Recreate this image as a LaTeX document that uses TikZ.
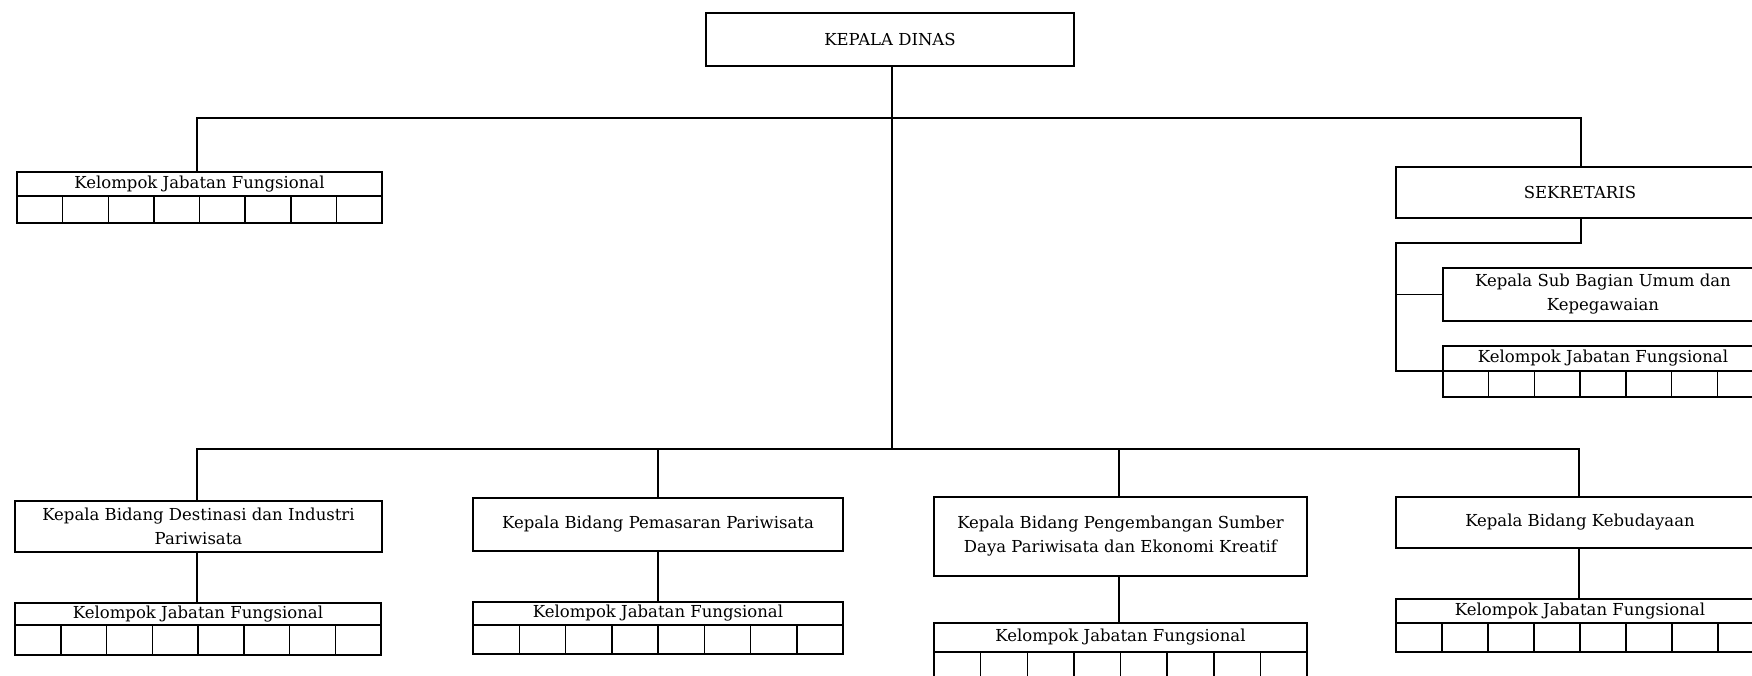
\documentclass[tikz,border=0pt]{standalone}
\usepackage{fontspec}
\setmainfont{DejaVu Serif}
\usetikzlibrary{calc}

\tikzset{
  unitbox/.style={draw, rectangle, inner sep=0pt, outer sep=0pt, line width=1.5pt,
    align=center, font=\fontsize{16.5}{24}\selectfont},
  kjftitle/.style={unitbox},
  kjfrow/.style={unitbox},
  link/.style={line width=1.4pt},
}

% Kelompok Jabatan Fungsional table:
% #1 name, #2 left x, #3 right x, #4 top y, #5 divider y, #6 bottom y, #7 number of cells
\newcommand{\kjfbox}[7]{%
  \node[kjftitle, minimum width={#3-#2}, minimum height={#5-#4}]
    (#1) at ({(#2+#3)/2},{(#4+#5)/2}) {Kelompok Jabatan Fungsional};
  \node[kjfrow, minimum width={#3-#2}, minimum height={#6-#5}]
    (#1c) at ({(#2+#3)/2},{(#5+#6)/2}) {};
  \pgfmathtruncatemacro{\lastdiv}{#7-1}
  \foreach \i in {1,...,\lastdiv}{
    \draw[line width=1.5pt] ($(#1c.south west)!\i/#7!(#1c.south east)$)
      -- ($(#1c.north west)!\i/#7!(#1c.north east)$);
  }
}

\begin{document}
\begin{tikzpicture}[x=1pt, y=-1pt]
  \useasboundingbox (0,0) rectangle (1752,675);
  \clip (0,0) rectangle (1752,675);

  % head of office
  \node[unitbox, minimum width=368, minimum height=53] (kd) at (890,39.5) {KEPALA DINAS};

  % upper level
  \kjfbox{kjfa}{17}{382}{172}{196}{223}{8}
  \node[unitbox, minimum width=368, minimum height=51] (sek) at (1580,192.5) {SEKRETARIS};
  \node[unitbox, minimum width=320, minimum height=53] (sub) at (1603,294.5)
    {Kepala Sub Bagian Umum dan\\Kepegawaian};
  \kjfbox{kjfs}{1443}{1763}{346}{371}{397}{7}

  % departments
  \node[unitbox, minimum width=367, minimum height=51] (b1) at (198.5,526.5)
    {Kepala Bidang Destinasi dan Industri\\Pariwisata};
  \node[unitbox, minimum width=370, minimum height=53] (b2) at (658,524.5)
    {Kepala Bidang Pemasaran Pariwisata};
  \node[unitbox, minimum width=373, minimum height=79] (b3) at (1120.5,536.5)
    {Kepala Bidang Pengembangan Sumber\\Daya Pariwisata dan Ekonomi Kreatif};
  \node[unitbox, minimum width=368, minimum height=51] (b4) at (1580,522.5)
    {Kepala Bidang Kebudayaan};

  \kjfbox{kjf1}{15}{381}{603}{625}{655}{8}
  \kjfbox{kjf2}{473}{843}{602}{625}{654}{8}
  \kjfbox{kjf3}{934}{1307}{623}{652}{682}{8}
  \kjfbox{kjf4}{1396}{1764}{599}{623}{652}{8}

  % bus lines
  \coordinate (topbus) at (892,118);
  \coordinate (botbus) at (892,449);
  \coordinate (sekjoin) at (1581,243);
  \coordinate (sekleft) at (1396,243);

  \draw[link] (kd.south -| topbus) -- (botbus);
  \draw[link] (kjfa.north -| 197,0) -- (197,118 |- topbus) -- (1581,118 |- topbus) -- (sek.north -| 1581,0);

  % secretariat branch
  \draw[link] (sek.south -| sekjoin) -- (sekjoin) -- (sekleft) -- (sekleft |- kjfs.south west) -- (kjfs.south west);
  \draw[link] (sekleft |- sub.west) -- (sub.west);

  % departments branch
  \draw[link] (b1.north -| 197,0) -- (197,449 |- botbus) -- (1579,449 |- botbus) -- (b4.north -| 1579,0);
  \draw[link] (b2.north) -- (b2.north |- botbus);
  \draw[link] (b3.north -| 1119,0) -- (1119,449 |- botbus);

  % each department to its functional group
  \draw[link] (b1.south -| 197,0) -- (kjf1.north -| 197,0);
  \draw[link] (b2.south) -- (kjf2.north);
  \draw[link] (b3.south -| 1119,0) -- (kjf3.north -| 1119,0);
  \draw[link] (b4.south -| 1579,0) -- (kjf4.north -| 1579,0);
\end{tikzpicture}
\end{document}
